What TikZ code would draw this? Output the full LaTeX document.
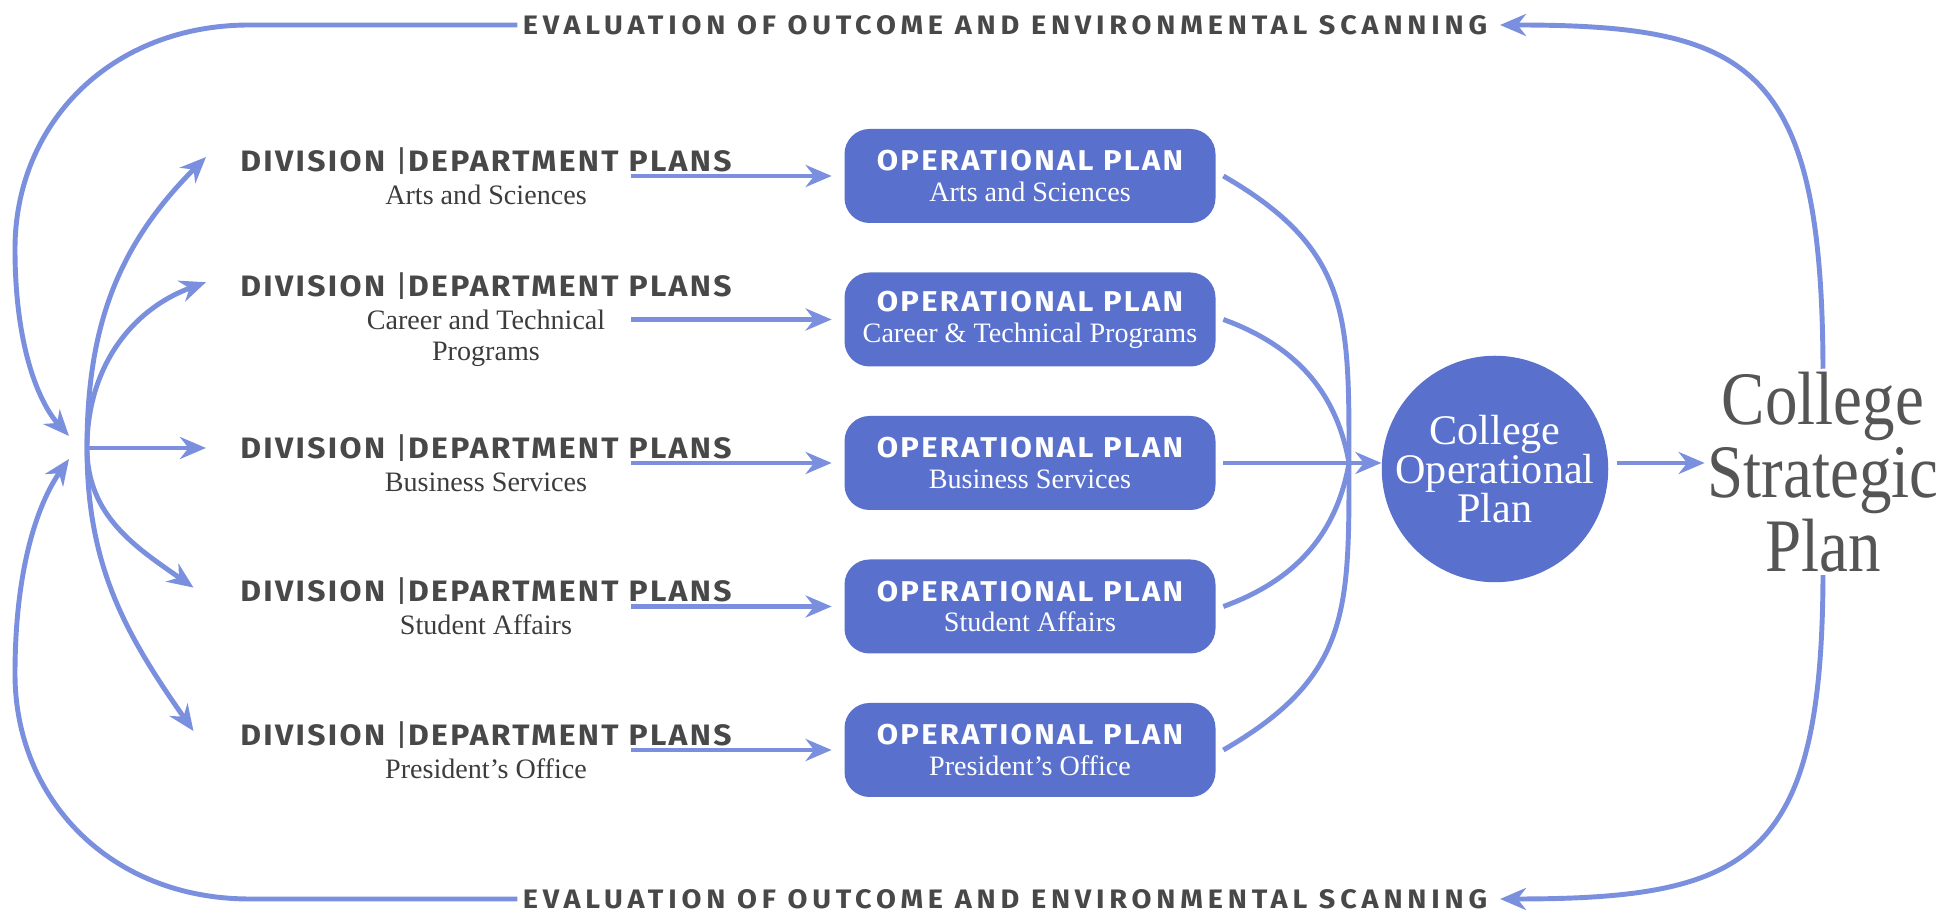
\documentclass[tikz,border=0pt]{standalone}
\usepackage{fontspec}
\setmainfont{Liberation Serif}
\newfontfamily\headfont[LetterSpace=8,FakeStretch=1.08]{Fira Sans}
\newfontfamily\evalfont[LetterSpace=18,FakeStretch=1.08]{Fira Sans}
\newfontfamily\narrowserif[FakeStretch=0.86]{Liberation Serif}
\usetikzlibrary{calc,positioning,arrows.meta}

\definecolor{opblue}{RGB}{89,113,205}
\definecolor{flowblue}{RGB}{122,143,222}
\definecolor{headgray}{RGB}{72,72,72}
\definecolor{subgray}{RGB}{60,60,60}
\definecolor{stratgray}{RGB}{85,85,85}

\newcommand{\divhead}{{\headfont\bfseries\fontsize{16.8}{17.6}\selectfont\color{headgray}DIVISION {\mdseries|}DEPARTMENT PLANS}}
\newcommand{\ophead}{{\headfont\bfseries\fontsize{16.3}{17.6}\selectfont OPERATIONAL PLAN}}

\begin{document}
\begin{tikzpicture}[>={Stealth[length=0.52cm,width=0.44cm]},
    flow/.style={draw=flowblue, line width=2.8pt, ->},
    line/.style={draw=flowblue, line width=2.8pt},
    divnode/.style={align=center, inner sep=0.1cm, text=subgray,
        font=\fontsize{16}{17.6}\selectfont},
    opbox/.style={fill=opblue, rounded corners=0.5cm, minimum width=7.42cm,
        minimum height=1.88cm, align=center, text=white,
        font=\fontsize{16}{17.6}\selectfont},
    evaltext/.style={text=headgray, inner sep=0.1cm,
        font=\evalfont\bfseries\fontsize{15.2}{16}\selectfont}]

    \useasboundingbox (0,0) rectangle (39.16,18.28);

    % -- Division / department plans on the left --
    \node[divnode] (div1) at (9.72,14.76) {\divhead\\[1.2pt]Arts and Sciences};
    \node[divnode] (div2) at (9.72,11.89) {\divhead\\[1.2pt]Career and Technical\\Programs};
    \node[divnode] (div3) at (9.72,9.02) {\divhead\\[1.2pt]Business Services};
    \node[divnode] (div4) at (9.72,6.15) {\divhead\\[1.2pt]Student Affairs};
    \node[divnode] (div5) at (9.72,3.28) {\divhead\\[1.2pt]President’s Office};

    % -- Operational plans in the middle --
    \node[opbox] (op1) at (20.6,14.76) {\ophead\\Arts and Sciences};
    \node[opbox] (op2) at (20.6,11.89) {\ophead\\Career \& Technical Programs};
    \node[opbox] (op3) at (20.6,9.02) {\ophead\\Business Services};
    \node[opbox] (op4) at (20.6,6.15) {\ophead\\Student Affairs};
    \node[opbox] (op5) at (20.6,3.28) {\ophead\\President’s Office};

    % -- College operational plan and strategic plan --
    \node[circle, fill=opblue, minimum size=4.2cm, inner sep=0pt, align=center,
          text=white, font=\fontsize{24}{22.4}\selectfont] (plan) at (29.9,8.9)
        {College\\Operational\\Plan};
    \node[align=center, inner sep=0.05cm, text=stratgray,
          font=\narrowserif\fontsize{43}{42}\selectfont] (strat) at (36.46,8.84)
        {College\\Strategic\\Plan};

    % -- Feedback labels --
    \node[evaltext] (evaltop) at (20.1,17.78)
        {EVALUATION OF OUTCOME AND ENVIRONMENTAL SCANNING};
    \node[evaltext] (evalbot) at (20.1,0.3)
        {EVALUATION OF OUTCOME AND ENVIRONMENTAL SCANNING};

    % -- Hub on the left --
    \coordinate (hub) at (1.74,9.32);
    \coordinate (intop) at (1.38,9.56);
    \coordinate (inbot) at (1.38,9.1);
    \coordinate (merge) at (26.98,9.02);

    % hub to division plans
    \draw[flow] (hub) to[out=90,in=225] ([xshift=-0.58cm,yshift=-0.3cm]div1.north west);
    \draw[flow] (hub) to[out=90,in=200] ([xshift=-0.58cm,yshift=-0.3cm]div2.north west);
    \draw[flow, shorten >=0.58cm] (hub) -- (hub -| div3.west);
    \draw[flow] (hub) to[out=-90,in=145] ([xshift=-0.83cm,yshift=-0.3cm]div4.north west);
    \draw[flow] (hub) to[out=-90,in=125] ([xshift=-0.83cm,yshift=-0.3cm]div5.north west);

    % division plans to operational plans
    \foreach \i in {1,...,5}
        \draw[flow, shorten >=0.25cm] ($(op\i.west -| div\i.east)+(-2.12,0)$) -- (op\i.west);

    % operational plans into the college plan
    \draw[line] ([xshift=0.15cm]op1.east) to[out=-30,in=90,looseness=1.2] (merge);
    \draw[line] ([xshift=0.15cm]op2.east) to[out=-20,in=100] (merge);
    \draw[line] ([xshift=0.15cm]op4.east) to[out=20,in=-100] (merge);
    \draw[line] ([xshift=0.15cm]op5.east) to[out=30,in=-90,looseness=1.2] (merge);
    \draw[flow] ([xshift=0.15cm]op3.east) -- (op3.east -| plan.west);
    \draw[flow] ([xshift=0.16cm]op3.east -| plan.east) -- (op3.east -| strat.west);

    % -- Evaluation loops --
    \draw[flow, shorten >=0.15cm] (strat.north) .. controls (36.44,17.0) and (35.0,17.78) .. (evaltop.east);
    \draw[flow, shorten >=0.15cm] (strat.south) .. controls (36.44,1.08) and (35.0,0.3) .. (evalbot.east);
    \draw[flow] (evaltop.west) -- (5.0,17.78)
        .. controls (2.2,17.78) and (0.3,15.8) .. (0.3,13.3)
        .. controls (0.3,11.3) and (0.8,10.2) .. (intop);
    \draw[flow] (evalbot.west) -- (5.0,0.3)
        .. controls (2.2,0.3) and (0.3,2.3) .. (0.3,4.8)
        .. controls (0.3,6.9) and (0.75,8.2) .. (inbot);

\end{tikzpicture}
\end{document}
